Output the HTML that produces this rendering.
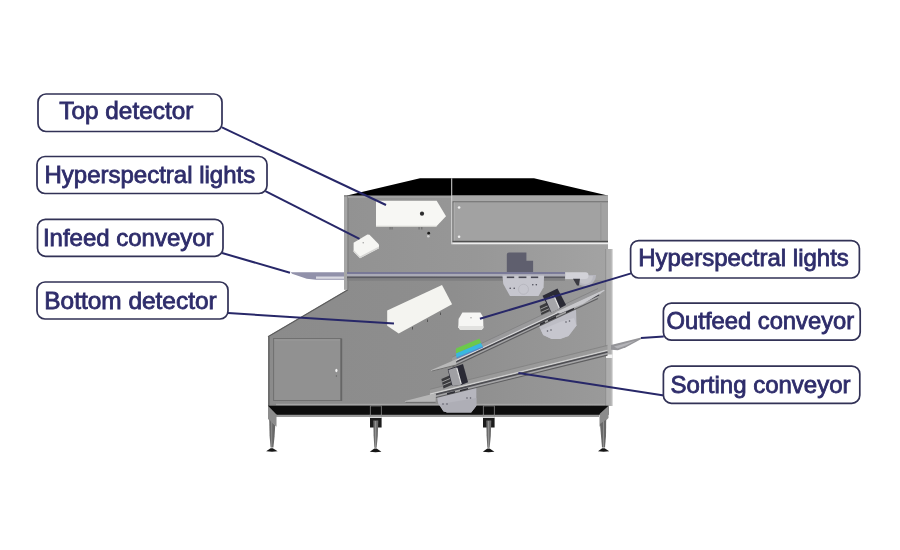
<!DOCTYPE html>
<html><head><meta charset="utf-8"><style>
html,body{margin:0;padding:0;background:#fff;width:900px;height:550px;overflow:hidden}
svg{display:block}
.lb{fill:#fff;stroke:#303056;stroke-width:1.7}
.tx{font-family:"Liberation Sans",sans-serif;font-size:23.4px;fill:#2e2d6b;stroke:#2e2d6b;stroke-width:0.8}
.ld{stroke:#272768;stroke-width:2;fill:none}
</style></head><body>
<svg width="900" height="550" viewBox="0 0 900 550">
<!-- ===== MACHINE ===== -->
<defs><filter id="soft" x="-5%" y="-5%" width="110%" height="110%"><feGaussianBlur stdDeviation="0.45"/></filter></defs>
<g id="machine" filter="url(#soft)">
  <!-- lower body -->
  <defs><linearGradient id="lg" gradientUnits="userSpaceOnUse" x1="268" x2="608" y1="0" y2="0"><stop offset="0" stop-color="#8b8b8b"/><stop offset="0.55" stop-color="#8e8e8e"/><stop offset="1" stop-color="#9a9a9a"/></linearGradient></defs>
  <polygon points="344,280 608,280 608,406 268,406 268,336.3 347.5,289.5 344,289.5" fill="url(#lg)"/>
  <rect x="276" y="403.8" width="330" height="1.4" fill="#a6a6a6"/>
  <!-- lower-left section darker around door -->
  <line x1="268" y1="336.8" x2="348" y2="289.8" stroke="#5c5c5c" stroke-width="1.1"/>
  <rect x="268" y="337" width="1.8" height="69" fill="#6c6c6c"/>
  <!-- upper body -->
  <defs><linearGradient id="ug" x1="0" x2="1" y1="0" y2="0"><stop offset="0" stop-color="#929292"/><stop offset="0.5" stop-color="#979797"/><stop offset="1" stop-color="#a3a3a3"/></linearGradient></defs>
  <rect x="344" y="195" width="264" height="85" fill="url(#ug)"/>
  <rect x="344" y="197" width="3.5" height="92.5" fill="#a6a6a6"/>
  <rect x="347.5" y="195" width="1" height="94.5" fill="#7a7a7a"/>
  <rect x="348" y="195.5" width="104" height="2.5" fill="#a0a0a0"/>
  <!-- roof -->
  <polygon points="347,195.5 420,178.3 534,178.3 607.7,195.5" fill="#060606"/>
  <!-- upper right panel -->
  <rect x="452" y="195.5" width="156" height="49" fill="#a8a8a8"/>
  <rect x="452.8" y="201.3" width="155.2" height="1.2" fill="#6a6a6a"/>
  <rect x="453.3" y="202.5" width="154.7" height="38.5" fill="#a2a2a2"/>
  <rect x="452.3" y="201.3" width="1.2" height="40.5" fill="#6a6a6a"/>
  <rect x="453.8" y="202.5" width="0.8" height="38.5" fill="#b4b4b4"/>
  <rect x="452.3" y="240.8" width="155.7" height="1.4" fill="#505050"/>
  <rect x="452.3" y="242.7" width="155.7" height="1.5" fill="#eeeeee"/>
  <rect x="451.2" y="178.3" width="1" height="66" fill="#d6d6d6"/>
  <rect x="600.5" y="203" width="0.8" height="38" fill="#8e8e8e"/>
  <circle cx="459.1" cy="207.5" r="1.3" fill="#f0f0f0"/>
  <circle cx="459.1" cy="236.8" r="1.3" fill="#f0f0f0"/>
  <!-- right side strip -->
  <rect x="606" y="249" width="6.3" height="157" fill="#adadad"/>
  <rect x="610.8" y="249" width="1.5" height="157" fill="#bababa"/>
  <rect x="605.2" y="249" width="1" height="157" fill="#909090"/>
  <rect x="606" y="354.5" width="6.5" height="3.5" fill="#f2f2f2"/>
  <!-- door -->
  <rect x="273.6" y="338.5" width="67.3" height="62" fill="#919191" stroke="#707070" stroke-width="1"/>
  <rect x="340.6" y="338.5" width="1.6" height="62.5" fill="#666"/>
  <rect x="274.5" y="339.5" width="65.5" height="1" fill="#9a9a9a"/>
  <ellipse cx="336.4" cy="370.5" rx="1.1" ry="1.8" fill="#f4f4f4"/>
  <circle cx="336.4" cy="376" r="0.7" fill="#666"/>
  <!-- black strip -->
  <rect x="268" y="405.7" width="340.5" height="9.2" fill="#0a0a0a"/>
  <rect x="276" y="414.9" width="323" height="2.1" fill="#989898"/>
  <!-- legs -->
  <polygon points="268,405.7 276.5,414.5 276.5,426.8 268,419" fill="#8c8c8c"/>
  <polygon points="269.2,419.5 275.2,425.5 274.6,436 273.4,447.6 270.6,447.6 269.6,436" fill="#686868"/>
  <rect x="271.2" y="421" width="1" height="26" fill="#8e8e8e"/>
  <polygon points="266.2,451.2 270.6,448.2 272.8,448.2 277.6,451.2 272,451.8" fill="#141414"/>
  <g>
    <rect x="370.3" y="405.9" width="11" height="11.3" fill="none" stroke="#8a8a8a" stroke-width="0.8"/>
    <rect x="369.8" y="416.9" width="12" height="1.2" fill="#d8d8d8"/>
    <rect x="370" y="418" width="11.6" height="9.5" fill="#1c1c1c"/>
    <polygon points="373.3,420.5 378.3,420.5 377.8,436 376.6,447.8 374.4,447.8 373.6,436" fill="#6c6c6c"/>
    <rect x="375.1" y="421" width="1" height="26" fill="#959595"/>
    <polygon points="369.8,451.8 374.4,448.4 376.6,448.4 381.4,451.8 375.6,452.3" fill="#141414"/>
    <rect x="483.3" y="405.9" width="11" height="11.3" fill="none" stroke="#8a8a8a" stroke-width="0.8"/>
    <rect x="482.8" y="416.9" width="12" height="1.2" fill="#d8d8d8"/>
    <rect x="483" y="418" width="11.6" height="9.5" fill="#1c1c1c"/>
    <polygon points="486.3,420.5 491.3,420.5 490.8,436 489.6,447.8 487.4,447.8 486.6,436" fill="#6c6c6c"/>
    <rect x="488.1" y="421" width="1" height="26" fill="#959595"/>
    <polygon points="482.8,451.8 487.4,448.4 489.6,448.4 494.4,451.8 488.6,452.3" fill="#141414"/>
  </g>
  <polygon points="608.5,405.7 608.5,418 599.5,426.8 599.5,414" fill="#8c8c8c"/>
  <polygon points="600,424 606.2,419.5 606,436 605,447.6 602,447.6 601,436" fill="#686868"/>
  <rect x="603" y="421" width="1" height="26" fill="#8e8e8e"/>
  <polygon points="598,451.2 602.2,448.2 604.6,448.2 609.2,451.2 603.6,451.8" fill="#141414"/>
  <!-- top detector -->
  <polygon points="376,200.8 436.7,200.8 446,216.3 435.8,227 376,227" fill="#f7f7f4"/>
  <polygon points="376,225.8 436.9,225.8 435.8,227 376,227" fill="#d4d4d0"/>
  <circle cx="422" cy="213.7" r="2.1" fill="#2e2e2e"/>
  <rect x="389.6" y="227" width="0.9" height="2.5" fill="#666"/><rect x="391.6" y="227" width="0.9" height="2.5" fill="#666"/>
  <rect x="418.6" y="227" width="0.9" height="2.5" fill="#666"/><rect x="421.4" y="227" width="0.9" height="2.5" fill="#666"/>
  <circle cx="428.7" cy="233.2" r="1.4" fill="#1e1e1e"/>
  <circle cx="428.3" cy="236.3" r="1.3" fill="#d0d0d0"/>
  <!-- left light -->
  <polygon points="353.6,242.7 367.4,234.6 369.5,234.8 379,244.5 379,248.2 360,258.2 353.6,251.8" fill="#f6f6f3"/>
  <polygon points="353.6,250 360,256.4 379,246.4 379,248.2 360,258.2 353.6,251.8" fill="#d6d6d4"/>
  <circle cx="363.2" cy="242.8" r="0.7" fill="#999"/>
  <!-- infeed conveyor outside -->
  <polygon points="290.7,272.3 344,272.3 344,279.7 316,279.7 306.7,278.7 292,273.7" fill="#9191aa"/>
  <rect x="316" y="276.5" width="28" height="2.3" fill="#dadae2"/>
  <!-- infeed inside -->
  <rect x="347" y="272.2" width="218" height="1.7" fill="#727296"/>
  <rect x="347" y="273.9" width="218" height="2.6" fill="#aaaab6"/>
  <rect x="347" y="276.5" width="218" height="2" fill="#5a5a62"/>
  <rect x="347" y="278.5" width="218" height="2.3" fill="#808082"/>
  <!-- motor above infeed -->
  <path d="M509,252.4 H526.4 V260.8 H533.1 V272 H506.8 V254.6 Q506.8,252.4 509,252.4 Z" fill="#5e5e6e"/>
  <!-- bracket under infeed -->
  <polygon points="502.4,275.5 544.1,275.5 543.6,287.3 538.5,296.1 510,296.1 503.3,284" fill="#c6c6ce"/>
  <g fill="#4a4a55">
    <rect x="506.8" y="276.5" width="7.4" height="1.6"/>
    <rect x="518.6" y="276.5" width="7.8" height="1.6"/>
    <rect x="530.9" y="276.5" width="7.3" height="1.6"/>
    <circle cx="510.2" cy="288.3" r="0.8"/><circle cx="514.2" cy="288.3" r="0.8"/>
    <circle cx="532.8" cy="284.8" r="0.8"/><circle cx="536.3" cy="284.8" r="0.8"/>
  </g>
  <circle cx="523.5" cy="289.3" r="5" fill="none" stroke="#b8b8c0" stroke-width="1"/>
  <!-- infeed right end bracket -->
  <path d="M574,275 A11,11 0 0 0 596,275 Z" fill="#b6b6be"/>
  <path d="M577,276 A8,8 0 0 0 593,276 Z" fill="#c2c2c8"/>
  <path d="M565.2,272.2 H585.5 Q588.5,272.2 588.5,275.5 Q588.5,279 585.5,279 H565.2 Z" fill="#d2d2d8"/>
  <polygon points="573,278.8 580,278.8 579,285.5 577,285.5" fill="#3a3a42"/>
  <!-- bottom detector -->
  <polygon points="387.2,310.5 442,285.1 452.1,304.2 398.7,333.5 387.2,325.8" fill="#f4f4f0"/>
  <g fill="#555"><rect x="412" y="327" width="1" height="2.5"/><rect x="427" y="319.5" width="1" height="2.5"/><rect x="440" y="312.5" width="1" height="2.5"/></g>
  <!-- right light -->
  <polygon points="462.4,312.6 480.4,312.6 483.1,316.9 483.4,327.9 481.5,330 460.2,330 458.3,327.3 458.6,319.1" fill="#f6f6f4"/>
  <polygon points="458.4,326 483.4,326 483.4,327.9 481.5,330 460.2,330 458.3,327.3" fill="#e2e2e0"/>
  <circle cx="471" cy="317.8" r="0.7" fill="#999"/>
  <!-- upper housing -->
  <polygon points="539,326.4 540,321.2 576,309.6 576.5,325.4 568.5,336 560,339.1 551.7,339.1 543.2,334.9" fill="#bdbdc5"/>
  <polygon points="541,330 560,322 574,318 576.5,325.4 568.5,336 560,339.1 551.7,339.1 543.2,334.9" fill="#c6c6ce"/>
  <g fill="#5a5a64"><circle cx="547.5" cy="331" r="0.8"/><circle cx="551" cy="330" r="0.8"/><circle cx="566" cy="322" r="0.8"/><circle cx="569.5" cy="321" r="0.8"/></g>
  <!-- upper inclined conveyor -->
  <polygon points="452,357.3 598,288.6 598,298.4 452,367.1" fill="#9a9a9c"/>
  <line x1="452" y1="357.3" x2="598" y2="288.6" stroke="#7c7c7e" stroke-width="0.7"/>
  <polygon points="452,364.3 598,295.6 598,298.0 452,366.7" fill="#a4a4a6"/>
  <line x1="452" y1="367.1" x2="598" y2="298.4" stroke="#5e5e60" stroke-width="1.1"/>
  <line x1="452" y1="362.4" x2="601" y2="292.3" stroke="#d6d6d8" stroke-width="1.4"/>
  <line x1="452" y1="363.9" x2="599" y2="294.8" stroke="#44444a" stroke-width="1.6"/>
  <!-- color strip -->
  <polygon points="455.9,348.5 479.5,338.4 481,343 456,353.5" fill="#6cc84c"/>
  <polygon points="456,353.5 481,343 482.8,346.5 456.5,357.5" fill="#38b8e0"/>
  <polygon points="456.5,357.5 482.8,346.5 483.2,347.6 456.7,358.6" fill="#4a8ad0"/>
  <g fill="#2e2e34">
    <polygon points="566.0,311.4 574.0,307.6 574.0,309.4 566.0,313.2"/>
    <polygon points="548.0,319.8 556.0,316.1 556.0,317.9 548.0,321.6"/>
    <polygon points="540.0,323.6 545.0,321.3 545.0,323.1 540.0,325.4"/>
  </g>
  <polygon points="430.8,370.2 456.2,359.2 456.2,365.3 431.5,371.5" fill="#b9b9b9"/>
  <line x1="431.5" y1="371.2" x2="456.2" y2="365" stroke="#6e6e6e" stroke-width="1"/>
  <polygon points="555,312.6 604,289.7 604.7,290.7 583,304 560,313.5" fill="#c8c8cc"/>
  <!-- upper motor -->
  <polygon points="539.6,306 548,302 549.8,311 541.4,315" fill="#3a3a3e"/>
  <line x1="540.3" y1="309.2" x2="548.7" y2="305.4" stroke="#9a9a9a" stroke-width="1"/>
  <line x1="541" y1="312.4" x2="549.3" y2="308.6" stroke="#9a9a9a" stroke-width="1"/>
  <polygon points="542.5,295.7 557.5,288.4 566.1,305 560,308.2 551,312.5" fill="#2a2a36"/>
  <polygon points="545.5,299 553.5,295.2 559.5,308.8 551.5,312.5" fill="#a6a6aa"/>
  <line x1="554" y1="296" x2="559.3" y2="308" stroke="#e6e6e6" stroke-width="1.2"/>
  <!-- lower housing -->
  <polygon points="436.9,395.9 476.3,387 476.3,406 471.2,412.4 447.1,412.4 443.3,411.2 438.2,403.5" fill="#b6b6be"/>
  <polygon points="440,404 476.3,398 476.3,406 471.2,412.4 447.1,412.4 443.3,411.2" fill="#aeaeb6"/>
  <g fill="#5a5a64"><circle cx="443" cy="404" r="0.8"/><circle cx="447" cy="404" r="0.8"/><circle cx="467" cy="398" r="0.8"/><circle cx="470.5" cy="398" r="0.8"/></g>
  <!-- lower conveyor -->
  <polygon points="430,389.3 607.5,345.4 607.5,355.0 430,398.9" fill="#9a9a9a"/>
  <line x1="430" y1="389.3" x2="607.5" y2="345.4" stroke="#7c7c7c" stroke-width="0.7"/>
  <polygon points="430,396.3 607.5,352.4 607.5,354.7 430,398.6" fill="#a4a4a6"/>
  <line x1="430" y1="399" x2="607.5" y2="355.1" stroke="#5e5e60" stroke-width="1.1"/>
  <line x1="430" y1="394.3" x2="607.5" y2="350.4" stroke="#d0d0d0" stroke-width="1.4"/>
  <line x1="434" y1="394.9" x2="607.5" y2="352" stroke="#4e4e52" stroke-width="1.6"/>
  <g fill="#2e2e34">
    <polygon points="447.0,393.1 455.0,391.1 455.0,392.7 447.0,394.7"/>
    <polygon points="460.0,389.9 468.0,387.9 468.0,389.5 460.0,391.5"/>
  </g>
  <polygon points="405.1,401 434.4,393.4 436,393.2 435.6,402.3 405,402.3" fill="#b6b6b6"/>
  <line x1="405.5" y1="402.4" x2="435.6" y2="402.3" stroke="#6a6a6a" stroke-width="1"/>
  <!-- outfeed extension -->
  <polygon points="611,345 641.1,337.6 641.3,339 626,347.2 617.8,350.2 611,349.8" fill="#959599"/>
  <polygon points="614,346.5 636,340.6 626,345.6 617.5,348.6" fill="#b4b4b8"/>
  <!-- lower motor -->
  <polygon points="441.4,379 450.5,375 452.8,384.5 443.5,388.5" fill="#3a3a3e"/>
  <line x1="442" y1="382" x2="451.3" y2="378" stroke="#9a9a9a" stroke-width="1"/>
  <line x1="442.7" y1="385.3" x2="452" y2="381.3" stroke="#9a9a9a" stroke-width="1"/>
  <polygon points="447.7,369.5 463,364 468.1,382.2 461.8,384.8 452,386" fill="#2a2a36"/>
  <polygon points="448.4,370 456.5,367.2 461,384.8 452.5,386" fill="#a0a0a4"/>
  <line x1="456.8" y1="367.8" x2="461.2" y2="384.2" stroke="#e6e6e6" stroke-width="1.2"/>
</g>
<!-- ===== LEADER LINES ===== -->
<g class="ld">
  <line x1="222" y1="127.4" x2="386" y2="205"/>
  <line x1="265.4" y1="191.1" x2="359.5" y2="238.8"/>
  <line x1="222.1" y1="253" x2="290" y2="272.8"/>
  <line x1="228" y1="313" x2="394" y2="323.6"/>
  <line x1="631.1" y1="273.4" x2="479.9" y2="318.8"/>
  <line x1="663.7" y1="336.6" x2="641" y2="338.1"/>
  <line x1="664" y1="395.5" x2="518.4" y2="372.9"/>
</g>
<!-- ===== LABELS ===== -->
<defs><filter id="soft2" x="-5%" y="-20%" width="110%" height="140%"><feGaussianBlur stdDeviation="0.3"/></filter></defs>
<g filter="url(#soft2)">
<rect class="lb" x="38" y="94" width="184" height="37.5" rx="8"/>
<rect class="lb" x="37" y="156.5" width="230" height="37" rx="8"/>
<rect class="lb" x="37.5" y="219.3" width="185.5" height="37" rx="8"/>
<rect class="lb" x="37" y="282" width="191" height="37" rx="8"/>
<rect class="lb" x="630.6" y="240.6" width="228.8" height="37.4" rx="8"/>
<rect class="lb" x="663.4" y="303.1" width="196.8" height="37.1" rx="8"/>
<rect class="lb" x="663.4" y="366.1" width="196.4" height="37.2" rx="8"/>
<text class="tx" transform="translate(59.3,119.2) scale(1.041,1)">Top detector</text>
<text class="tx" transform="translate(44.5,183.3) scale(1.026,1)">Hyperspectral lights</text>
<text class="tx" transform="translate(42.9,245.7) scale(1.026,1)">Infeed conveyor</text>
<text class="tx" transform="translate(44.3,308.7) scale(1.044,1)">Bottom detector</text>
<text class="tx" transform="translate(638.2,266.3) scale(1.026,1)">Hyperspectral lights</text>
<text class="tx" transform="translate(666.6,329) scale(1.016,1)">Outfeed conveyor</text>
<text class="tx" transform="translate(670.5,392.7) scale(1.026,1)">Sorting conveyor</text>
</g>
</svg>
</body></html>
